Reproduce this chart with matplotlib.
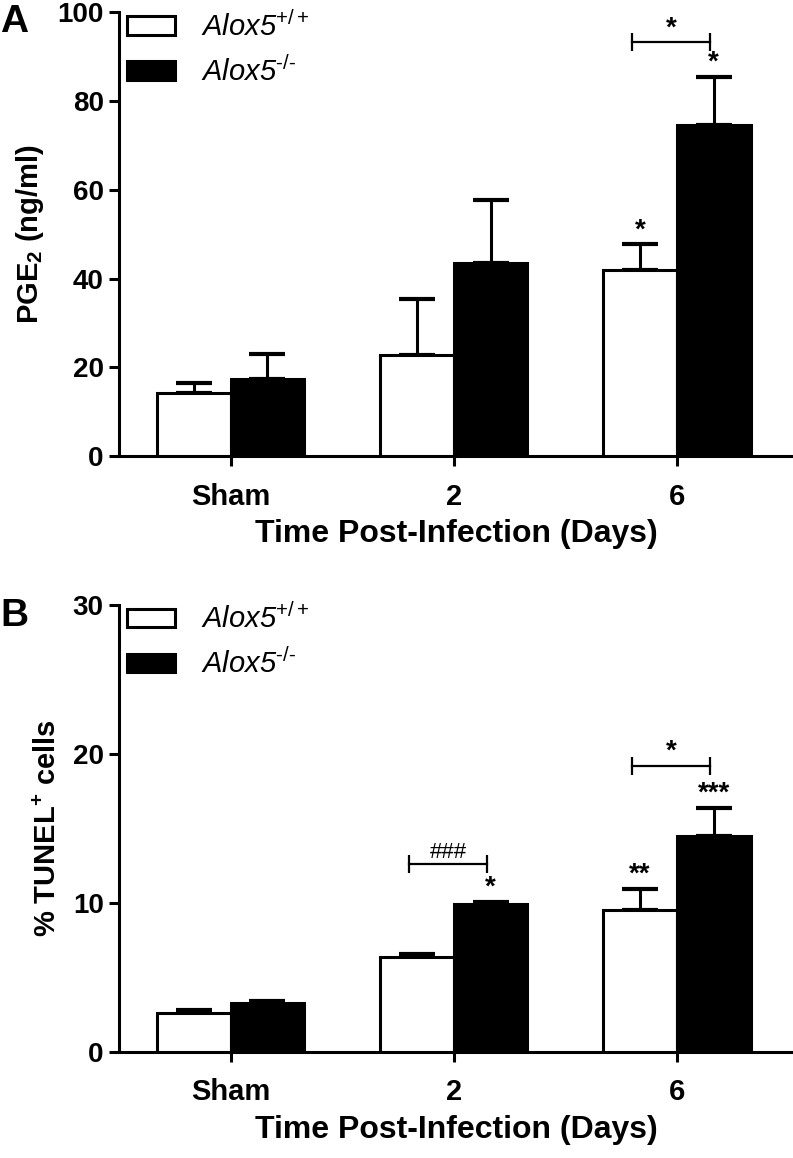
import matplotlib
matplotlib.use('Agg')
import matplotlib.pyplot as plt
import numpy as np

plt.rcParams['font.family'] = ['Liberation Sans', 'DejaVu Sans']
plt.rcParams['mathtext.fontset'] = 'custom'
plt.rcParams['mathtext.rm'] = 'Liberation Sans'
plt.rcParams['mathtext.it'] = 'Liberation Sans:italic'
plt.rcParams['mathtext.bf'] = 'Liberation Sans:bold'

# data
groups = ['Sham', '2', '6']
series = [r'Alox5$^{\mathrm{+/+}}$', 'Alox5$^{\\mathit{\u2010/\u2010}}$']

pge2_wt = [14.2, 22.9, 41.9]
pge2_wt_err = [2.2, 12.6, 5.8]
pge2_ko = [17.5, 43.6, 74.7]
pge2_ko_err = [5.6, 14.2, 10.7]

tunel_wt = [2.6, 6.4, 9.5]
tunel_wt_err = [0.2, 0.15, 1.45]
tunel_ko = [3.3, 9.95, 14.5]
tunel_ko_err = [0.15, 0.15, 1.9]

# significance marks: (group index, series index, text)
pge2_stars = [(2, 0, '*'), (2, 1, '*')]
pge2_brackets = [(2, 93.3, '*')]
tunel_stars = [(1, 1, '*'), (2, 0, '**'), (2, 1, '***')]
tunel_brackets = [(1, 12.6, '###'), (2, 19.2, '*')]

W = 0.33
LW = 2.2


def draw_panel(ax, wt, wt_err, ko, ko_err, ymax, ystep, ylabel, stars, brackets, unit):
    x = np.arange(len(groups))
    b1 = ax.bar(x - W / 2, wt, W, color='white', edgecolor='black', linewidth=LW, zorder=3)
    b2 = ax.bar(x + W / 2, ko, W, color='black', edgecolor='black', linewidth=LW, zorder=3)
    ax.errorbar(x - W / 2, wt, yerr=[np.zeros(len(wt)), wt_err], fmt='none', ecolor='black',
                elinewidth=LW, capsize=13, capthick=3, zorder=2)
    ax.errorbar(x + W / 2, ko, yerr=[np.zeros(len(ko)), ko_err], fmt='none', ecolor='black',
                elinewidth=LW, capsize=13, capthick=3, zorder=2)

    means = [wt, ko]
    errs = [wt_err, ko_err]
    for g, s, txt in stars:
        xx = x[g] + (s - 0.5) * W
        yy = means[s][g] + errs[s][g] + 0.3 * unit
        ax.text(xx, yy, txt, ha='center', va='bottom', fontsize=20, fontweight='bold')
    for g, yb, txt in brackets:
        x1, x2 = x[g] - 0.2, x[g] + 0.15
        ax.plot([x1, x2], [yb, yb], color='black', lw=1.6)
        ax.vlines([x1, x2], yb - 2 * unit, yb + 2 * unit, color='black', lw=1.6)
        ax.text((x1 + x2) / 2, yb + 0.2 * unit, txt, ha='center', va='bottom',
                fontsize=20 if txt == '*' else 16,
                fontweight='bold' if txt == '*' else 'normal')

    ax.set_xlim(-0.5, 2.52)
    ax.set_ylim(0, ymax)
    ax.set_yticks(np.arange(0, ymax + 1, ystep))
    ax.set_xticks(x)
    ax.set_xticklabels(groups)
    for sp in ['top', 'right']:
        ax.spines[sp].set_visible(False)
    for sp in ['left', 'bottom']:
        ax.spines[sp].set_linewidth(LW)
    ax.tick_params(axis='both', direction='out', length=7, width=LW, labelsize=20)
    ax.tick_params(axis='x', labelsize=21, pad=12)
    ax.tick_params(axis='y', pad=4)
    for lab in ax.get_xticklabels() + ax.get_yticklabels():
        lab.set_fontweight('bold')
    ax.set_xlabel('Time Post-Infection (Days)', fontsize=23, fontweight='bold', labelpad=6)
    ax.set_ylabel(ylabel, fontsize=21, fontweight='bold', labelpad=8)

    leg = ax.legend([b1, b2], series, loc='upper left', bbox_to_anchor=(0.012, 1.003),
                    frameon=False, prop={'size': 21, 'style': 'italic'},
                    handlelength=1.63, handleheight=0.6,
                    handletextpad=0.9, labelspacing=0.5, borderaxespad=0, borderpad=0)
    return leg


fig = plt.figure(figsize=(7.93, 11.58), dpi=100)
axA = fig.add_axes([0.150, 0.606, 0.85, 0.3834])
axB = fig.add_axes([0.150, 0.0915, 0.85, 0.386])

draw_panel(axA, pge2_wt, pge2_wt_err, pge2_ko, pge2_ko_err, 100, 20,
           r'PGE$_\mathbf{2}$ (ng/ml)', pge2_stars, pge2_brackets, 1.0)
draw_panel(axB, tunel_wt, tunel_wt_err, tunel_ko, tunel_ko_err, 30, 10,
           r'% TUNEL$^\mathbf{+}$ cells', tunel_stars, tunel_brackets, 0.3)

fig.text(0.0, 0.981, 'A', fontsize=28, fontweight='bold', ha='left', va='center')
fig.text(0.0, 0.468, 'B', fontsize=28, fontweight='bold', ha='left', va='center')

fig.savefig('out.png', dpi=100)
